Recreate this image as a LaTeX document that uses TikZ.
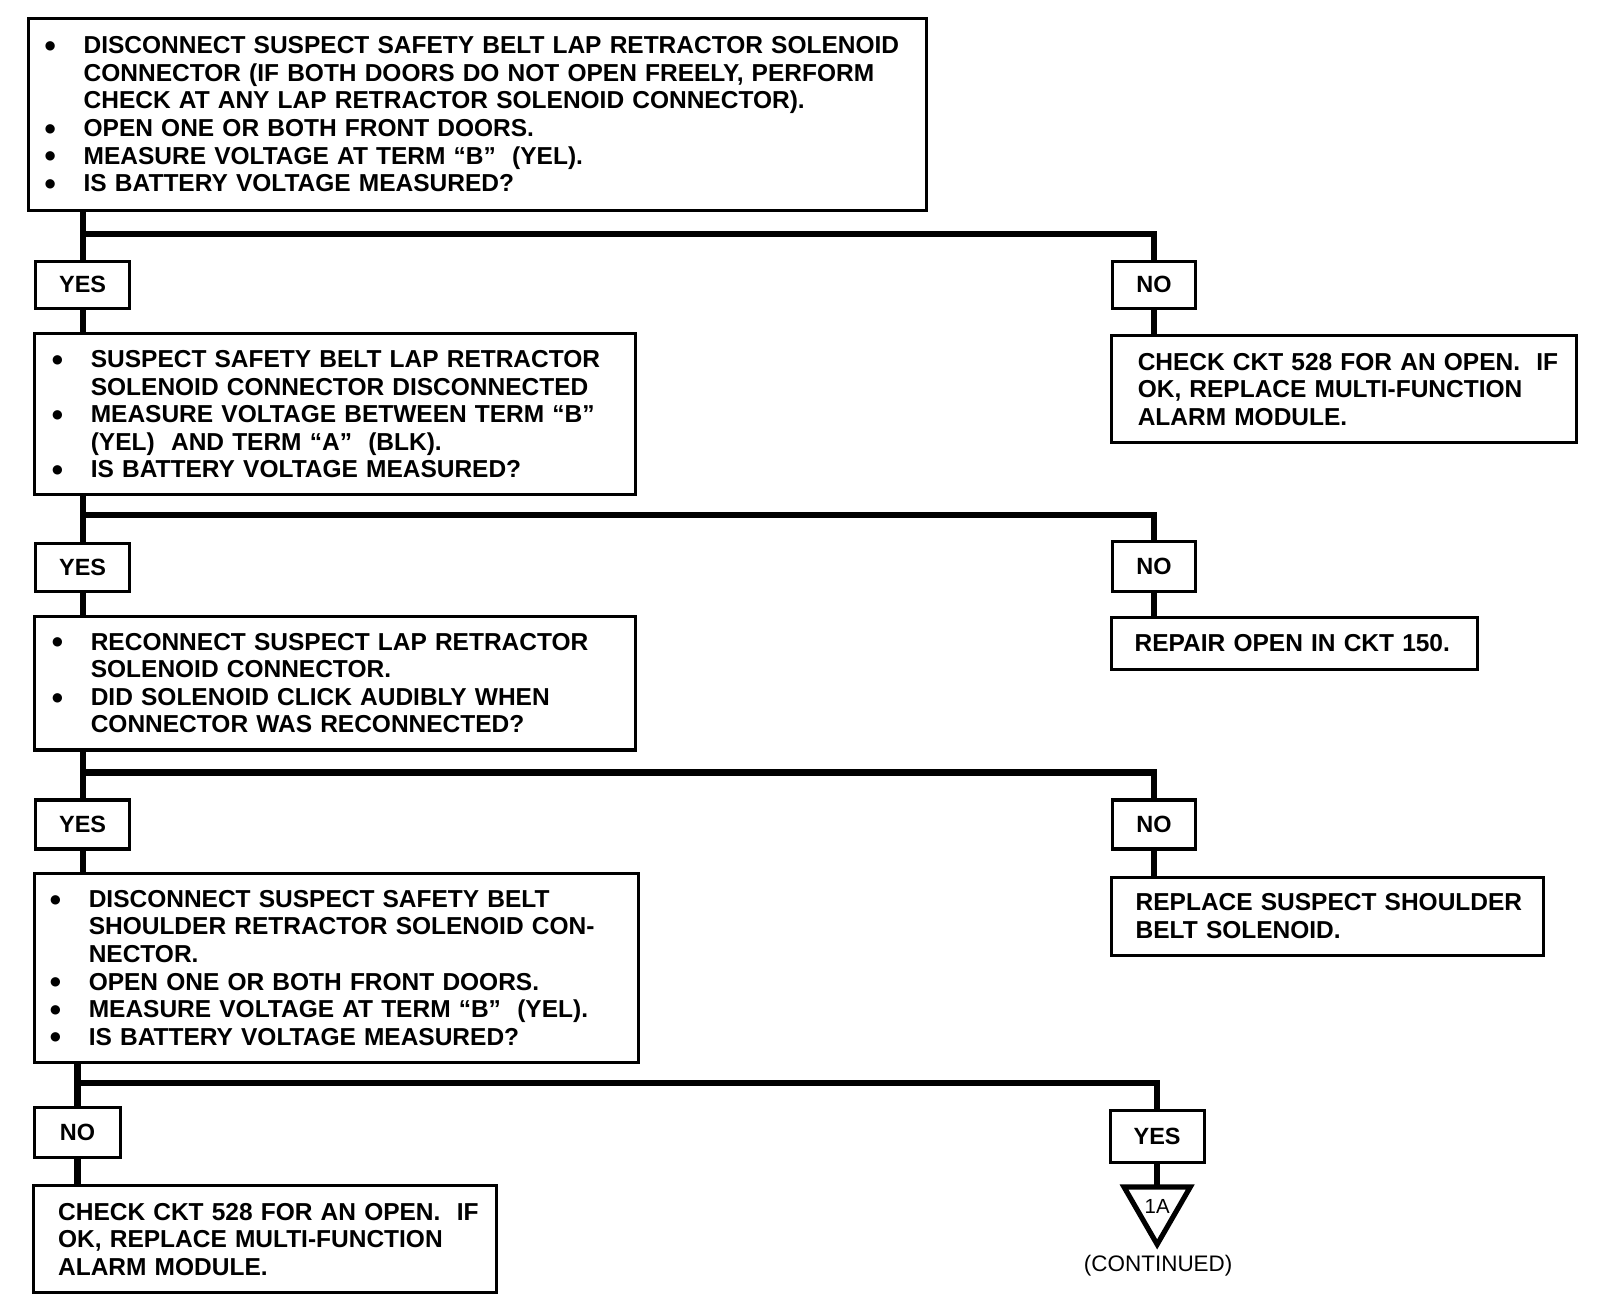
\documentclass[tikz,border=0pt]{standalone}
\usepackage{fontspec}
\setmainfont{Liberation Sans}
\newfontfamily\symfont{DejaVu Sans}
\usetikzlibrary{shapes.geometric,calc}
\newcommand\bulmark{\raisebox{4.2pt}{\symfont\fontsize{12}{12}\selectfont ●}}
\newcommand\bl[1]{\mbox{\makebox[38pt][l]{\bulmark}#1}}
\newcommand\ind[1]{\mbox{\hspace*{38pt}#1}}
\newcommand\tl[1]{\mbox{#1}}
\tikzset{
  box/.style={draw, line width=3pt, outer sep=0pt, inner ysep=0pt, anchor=north west,
    align=left, font=\fontsize{24}{27}\selectfont\bfseries},
  yn/.style={draw, line width=3pt, outer sep=0pt, inner sep=0pt, anchor=center,
    font=\fontsize{23}{27}\selectfont\bfseries},
  conn/.style={line width=6pt}
}
\begin{document}
\begin{tikzpicture}[x=1pt,y=-1pt]
\path[use as bounding box, fill=white] (0,0) rectangle (1568,1282);

% main boxes
\node[box, minimum width=880pt, minimum height=188pt, text width=848pt, inner xsep=16pt] (b1) at (28,18) {%
\bl{DISCONNECT SUSPECT SAFETY BELT LAP RETRACTOR SOLENOID}\\
\ind{CONNECTOR (IF BOTH DOORS DO NOT OPEN FREELY, PERFORM}\\
\ind{CHECK AT ANY LAP RETRACTOR SOLENOID CONNECTOR).}\\
\bl{OPEN ONE OR BOTH FRONT DOORS.}\\
\bl{MEASURE VOLTAGE AT TERM “B”\ \ (YEL).}\\
\bl{IS BATTERY VOLTAGE MEASURED?}};

\node[yn, minimum width=92pt, minimum height=46pt] (yes1) at (81,279) {YES};
\node[yn, minimum width=82pt, minimum height=46pt] (no1) at (1131,279) {NO};

\node[box, minimum width=589pt, minimum height=158pt, text width=555pt, inner xsep=17pt] (b2) at (34,327) {%
\bl{SUSPECT SAFETY BELT LAP RETRACTOR}\\
\ind{SOLENOID CONNECTOR DISCONNECTED}\\
\bl{MEASURE VOLTAGE BETWEEN TERM “B”}\\
\ind{(YEL)\ \ AND TERM “A”\ \ (BLK).}\\
\bl{IS BATTERY VOLTAGE MEASURED?}};

\node[box, minimum width=456pt, minimum height=105pt, text width=404pt, inner xsep=26pt] (r1) at (1089,329) {%
\tl{CHECK CKT 528 FOR AN OPEN.\ \ IF}\\
\tl{OK, REPLACE MULTI-FUNCTION}\\
\tl{ALARM MODULE.}};

\node[yn, minimum width=92pt, minimum height=47pt] (yes2) at (81,556.5) {YES};
\node[yn, minimum width=82pt, minimum height=49pt] (no2) at (1131,555.5) {NO};

\node[box, minimum width=589pt, minimum height=131pt, text width=555pt, inner xsep=17pt] (b3) at (34,604) {%
\bl{RECONNECT SUSPECT LAP RETRACTOR}\\
\ind{SOLENOID CONNECTOR.}\\
\bl{DID SOLENOID CLICK AUDIBLY WHEN}\\
\ind{CONNECTOR WAS RECONNECTED?}};

\node[box, minimum width=359pt, minimum height=51pt, text width=313pt, inner xsep=23pt] (r2) at (1089,605) {%
\tl{REPAIR OPEN IN CKT 150.}};

\node[yn, minimum width=92pt, minimum height=48pt] (yes3) at (81,808) {YES};
\node[yn, minimum width=82pt, minimum height=48pt] (no3) at (1131,808) {NO};

\node[box, minimum width=592pt, minimum height=185pt, text width=562pt, inner xsep=15pt] (b4) at (34,856) {%
\bl{DISCONNECT SUSPECT SAFETY BELT}\\
\ind{SHOULDER RETRACTOR SOLENOID CON-}\\
\ind{NECTOR.}\\
\bl{OPEN ONE OR BOTH FRONT DOORS.}\\
\bl{MEASURE VOLTAGE AT TERM “B”\ \ (YEL).}\\
\bl{IS BATTERY VOLTAGE MEASURED?}};

\node[box, minimum width=424pt, minimum height=76pt, text width=376pt, inner xsep=24pt] (r3) at (1089,860) {%
\tl{REPLACE SUSPECT SHOULDER}\\
\tl{BELT SOLENOID.}};

\node[yn, minimum width=84pt, minimum height=49pt] (no4) at (76,1109.5) {NO};
\node[yn, minimum width=92pt, minimum height=51pt] (yes4) at (1134,1113.5) {YES};

\node[box, minimum width=454pt, minimum height=105pt, text width=406pt, inner xsep=24pt] (b5) at (33,1162) {%
\tl{CHECK CKT 528 FOR AN OPEN.\ \ IF}\\
\tl{OK, REPLACE MULTI-FUNCTION}\\
\tl{ALARM MODULE.}};

\node[draw, regular polygon, regular polygon sides=3, shape border rotate=180,
  minimum size=75pt, inner sep=0pt, outer sep=0pt, line width=5pt,
  font=\fontsize{20}{20}\selectfont] (tri) at (1134,1182) {1A};
\node[font=\fontsize{22}{22}\selectfont, inner sep=0pt] (cont) at (1135,1240) {(CONTINUED)};

% connectors
\coordinate (j1) at (81,229);
\coordinate (j2) at (81,505);
\coordinate (j3) at (81,757);
\coordinate (j4) at (76,1061);

\draw[conn] (b1.south -| yes1.north) -- (yes1.north);
\draw[conn] (j1) -| (no1.north);
\draw[conn] (yes1.south) -- (yes1.south |- b2.north);
\draw[conn] (no1.south) -- (no1.south |- r1.north);

\draw[conn] (b2.south -| yes2.north) -- (yes2.north);
\draw[conn] (j2) -| (no2.north);
\draw[conn] (yes2.south) -- (yes2.south |- b3.north);
\draw[conn] (no2.south) -- (no2.south |- r2.north);

\draw[conn] (b3.south -| yes3.north) -- (yes3.north);
\draw[conn] (j3) -| (no3.north);
\draw[conn] (yes3.south) -- (yes3.south |- b4.north);
\draw[conn] (no3.south) -- (no3.south |- r3.north);

\draw[conn] (b4.south -| no4.north) -- (no4.north);
\draw[conn] (j4) -| (yes4.north);
\draw[conn] (no4.south) -- (no4.south |- b5.north);
\draw[conn] (yes4.south) -- (yes4.south |- tri.north);
\end{tikzpicture}
\end{document}
